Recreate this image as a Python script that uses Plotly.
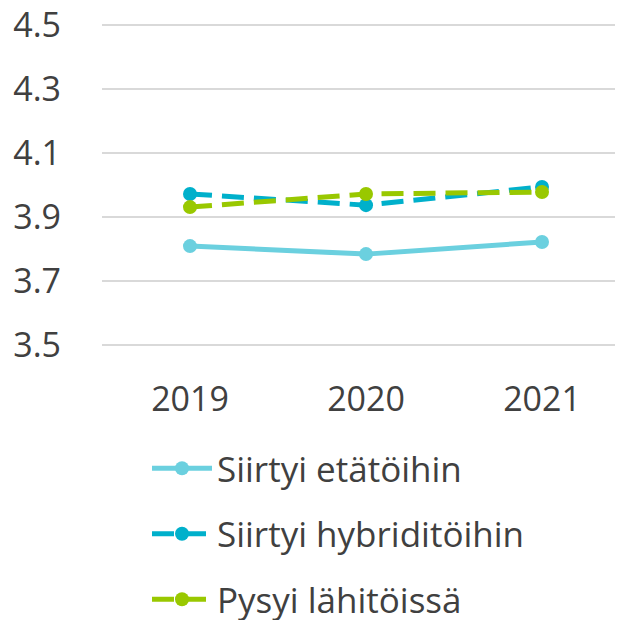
import plotly.graph_objects as go

years = ["2019", "2020", "2021"]
etatoihin = [3.809, 3.784, 3.822]
hybriditoihin = [3.972, 3.937, 3.994]
lahitoissa = [3.931, 3.972, 3.978]
series_names = ["Siirtyi etätöihin", "Siirtyi hybriditöihin", "Pysyi lähitöissä"]
y_ticks = [3.5, 3.7, 3.9, 4.1, 4.3, 4.5]

colors = ["#6BD0DF", "#00B0CB", "#99C800"]
dashes = ["solid", "22px,10px", "22px,10px"]

fig = go.Figure()
for i, (name, vals, col, dash) in enumerate(zip(series_names, [etatoihin, hybriditoihin, lahitoissa], colors, dashes)):
    fig.add_trace(go.Scatter(
        x=years, y=vals, name=name, mode="lines+markers",
        line=dict(color=col, width=5, dash=dash),
        marker=dict(color=col, size=14),
        legendgroup=f"g{i}",
    ))

fig.update_layout(
    width=615, height=612,
    margin=dict(l=94, r=0, t=14, b=272, autoexpand=False),
    plot_bgcolor="white", paper_bgcolor="white",
    font=dict(family="Open Sans", size=34, color="#404040"),
    showlegend=True,
    legend=dict(
        orientation="v", xref="container", yref="container",
        x=139 / 615, y=1 - 431 / 612, xanchor="left", yanchor="top",
        font=dict(size=35, color="#404040"),
        tracegroupgap=17, itemwidth=60,
    ),
    xaxis=dict(
        type="category", range=[-0.5, 2.46], showgrid=False, showline=False,
        zeroline=False, ticks="", ticklabelstandoff=28, tickangle=0,
        automargin=False,
    ),
    yaxis=dict(
        range=[3.5 - 0.009375, 4.5 + 0.009375], tickvals=y_ticks,
        ticktext=[f"{v:.1f}" for v in y_ticks],
        showgrid=True, gridcolor="#D9D9D9", gridwidth=1.5, zeroline=False,
        showline=False, ticks="", ticklabelstandoff=40, automargin=False,
        ticklabeloverflow="allow",
    ),
)

fig.write_html("out.html")
